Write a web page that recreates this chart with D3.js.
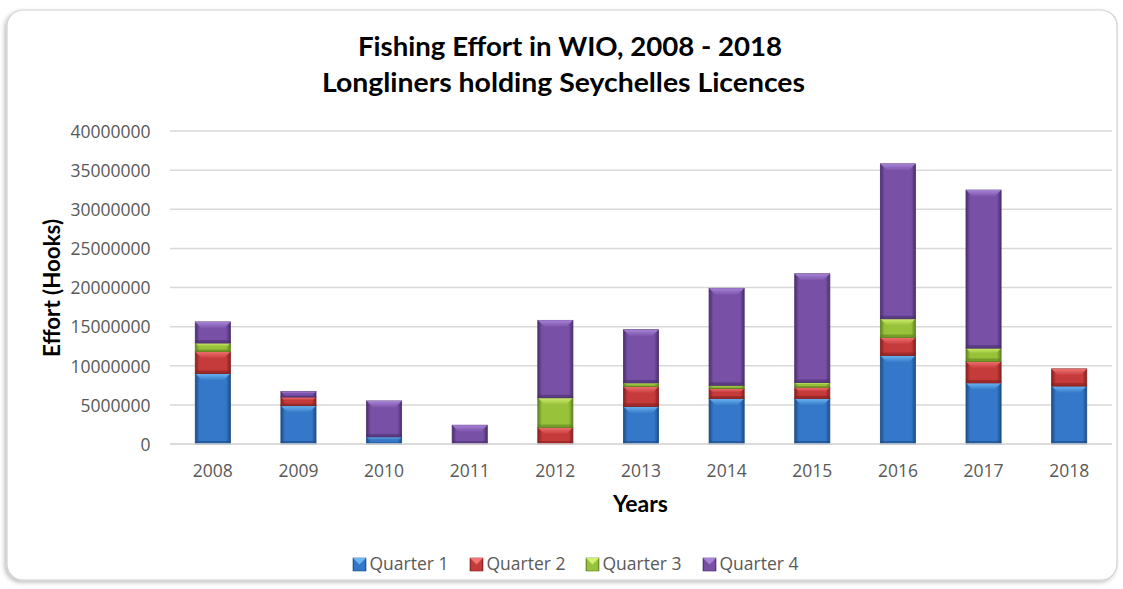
<!DOCTYPE html>
<html><head><meta charset="utf-8">
<script src="https://cdn.jsdelivr.net/npm/d3@7"></script>
<style>body{margin:0;background:#fff}svg{display:block}</style>
</head><body>
<svg id="c" width="1123" height="589"></svg>
<script>
const years = ["2008","2009","2010","2011","2012","2013","2014","2015","2016","2017","2018"];
const quarter1 = [9000000,4900000,900000,0,0,4800000,5800000,5800000,11300000,7800000,7400000];
const quarter2 = [2800000,1100000,0,0,2100000,2550000,1300000,1450000,2300000,2750000,2200000];
const quarter3 = [1100000,0,0,0,3800000,450000,400000,600000,2400000,1700000,0];
const quarter4 = [2700000,700000,4600000,2400000,9900000,6800000,12400000,13900000,19800000,20200000,0];
const seriesNames = ["Quarter 1","Quarter 2","Quarter 3","Quarter 4"];
const yTicks = [0,5000000,10000000,15000000,20000000,25000000,30000000,35000000,40000000];

const colors = [
  {base:"#3577c8", light:"#6cb8f2", dark:"#1d4d86"},
  {base:"#c53a3a", light:"#f27474", dark:"#862020"},
  {base:"#97c23a", light:"#d3f070", dark:"#5f8220"},
  {base:"#7850a6", light:"#a985d8", dark:"#4a2e6e"}
];

const svg = d3.select("#c");
const defs = svg.append("defs");
const font = "'Open Sans', 'DejaVu Sans', sans-serif";
const tfont = "Lato, 'Open Sans', sans-serif";

const f = defs.append("filter").attr("id","sh").attr("x","-5%").attr("y","-5%").attr("width","110%").attr("height","110%");
f.append("feDropShadow").attr("dx",-2).attr("dy",2).attr("stdDeviation",2).attr("flood-color","#000").attr("flood-opacity",0.25);

svg.append("rect").attr("x",7).attr("y",10).attr("width",1110).attr("height",570).attr("rx",16)
  .attr("fill","#fff").attr("stroke","#d0d0d0").attr("stroke-width",1.2).attr("filter","url(#sh)");

colors.forEach((c,i)=>{
  const g = defs.append("linearGradient").attr("id","g"+i).attr("x1","0").attr("x2","1").attr("y1","0").attr("y2","0");
  g.append("stop").attr("offset","0").attr("stop-color",c.dark);
  g.append("stop").attr("offset","0.12").attr("stop-color",c.base);
  g.append("stop").attr("offset","0.88").attr("stop-color",c.base);
  g.append("stop").attr("offset","1").attr("stop-color",c.dark);
  const v = defs.append("linearGradient").attr("id","v"+i).attr("x1","0").attr("x2","0").attr("y1","0").attr("y2","1");
  v.append("stop").attr("offset","0").attr("stop-color",c.light);
  v.append("stop").attr("offset","1").attr("stop-color",c.base);
});

const m = {left:170, right:1112, top:131, bottom:444};
const x = d3.scaleBand().domain(years).range([m.left,m.right]).paddingInner(0.59).paddingOuter(0.295);
const y = d3.scaleLinear().domain([0,40000000]).range([m.bottom,m.top]);

svg.append("g").selectAll("line").data(yTicks).join("line")
  .attr("x1",m.left).attr("x2",m.right).attr("y1",d=>y(d)).attr("y2",d=>y(d))
  .attr("stroke","#d9d9d9").attr("stroke-width",1.5);

const yAxis = d3.axisLeft(y).tickValues(yTicks).tickFormat(d=>String(d)).tickSize(0).tickPadding(19.5);
const ya = svg.append("g").attr("transform",`translate(${m.left},0)`).call(yAxis);
ya.select(".domain").remove();
ya.selectAll("text").attr("font-family",font).attr("font-size",17.5).attr("fill","#595959").attr("dy","0.36em");

const xAxis = d3.axisBottom(x).tickSize(0);
const xa = svg.append("g").attr("transform",`translate(0,${m.bottom})`).call(xAxis);
xa.select(".domain").remove();
xa.selectAll("text").attr("font-family",font).attr("font-size",17.5).attr("fill","#595959").attr("y",33).attr("dy",0);

const table = years.map((yr,i)=>({year:yr, "Quarter 1":quarter1[i], "Quarter 2":quarter2[i], "Quarter 3":quarter3[i], "Quarter 4":quarter4[i]}));
const stack = d3.stack().keys(seriesNames)(table);

const bw = x.bandwidth();
stack.forEach((layer,si)=>{
  const g = svg.append("g");
  layer.forEach((d,i)=>{
    const v0 = d[0], v1 = d[1];
    if (v1 - v0 <= 0) return;
    const x0 = x(years[i]);
    const yTop = y(v1), yBot = y(v0);
    const h = yBot - yTop;
    const c = colors[si];
    g.append("rect").attr("x",x0).attr("y",yTop).attr("width",bw).attr("height",h)
      .attr("fill",`url(#g${si})`).attr("stroke",c.dark).attr("stroke-width",0.8);
    const bev = Math.min(7, h/2.5);
    g.append("path").attr("d",`M${x0},${yTop} L${x0+bw},${yTop} L${x0+bw-bev},${yTop+bev} L${x0+bev},${yTop+bev} Z`)
      .attr("fill",`url(#v${si})`).attr("opacity",0.95);
    const bb = Math.min(3, h/4);
    g.append("rect").attr("x",x0).attr("y",yBot-bb).attr("width",bw).attr("height",bb).attr("fill",c.dark).attr("opacity",0.6);
  });
});

svg.append("line").attr("x1",m.left).attr("x2",m.right).attr("y1",y(0)).attr("y2",y(0)).attr("stroke","#d9d9d9").attr("stroke-width",1.5);

svg.append("text").attr("x",570).attr("y",56).attr("text-anchor","middle").attr("font-family",tfont)
  .attr("font-weight","bold").attr("font-size",26).attr("fill","#000")
  .attr("textLength",424).attr("lengthAdjust","spacingAndGlyphs").text("Fishing Effort in WIO, 2008 - 2018");
svg.append("text").attr("x",563.5).attr("y",92).attr("text-anchor","middle").attr("font-family",tfont)
  .attr("font-weight","bold").attr("font-size",26).attr("fill","#000")
  .attr("textLength",483).attr("lengthAdjust","spacingAndGlyphs").text("Longliners holding Seychelles Licences");

svg.append("text").attr("transform","translate(60,288) rotate(-90)").attr("text-anchor","middle")
  .attr("font-family",tfont).attr("font-weight","bold").attr("font-size",22).attr("fill","#000")
  .attr("textLength",138).attr("lengthAdjust","spacingAndGlyphs").text("Effort (Hooks)");
svg.append("text").attr("x",640.5).attr("y",512).attr("text-anchor","middle")
  .attr("font-family",tfont).attr("font-weight","bold").attr("font-size",22).attr("fill","#000")
  .attr("textLength",55).attr("lengthAdjust","spacingAndGlyphs").text("Years");

const legX = [353,470,586,703];
const lg = svg.append("g");
seriesNames.forEach((n,i)=>{
  const c = colors[i];
  lg.append("rect").attr("x",legX[i]).attr("y",558).attr("width",13).attr("height",13).attr("fill",`url(#g${i})`).attr("stroke",c.dark).attr("stroke-width",0.6);
  lg.append("path").attr("d",`M${legX[i]},558 L${legX[i]+13},558 L${legX[i]+6.5},564.5 Z`).attr("fill",c.light);
  lg.append("text").attr("x",legX[i]+16.5).attr("y",570).attr("font-family",font).attr("font-size",17.5).attr("fill","#595959").text(n);
});
</script>
</body></html>
